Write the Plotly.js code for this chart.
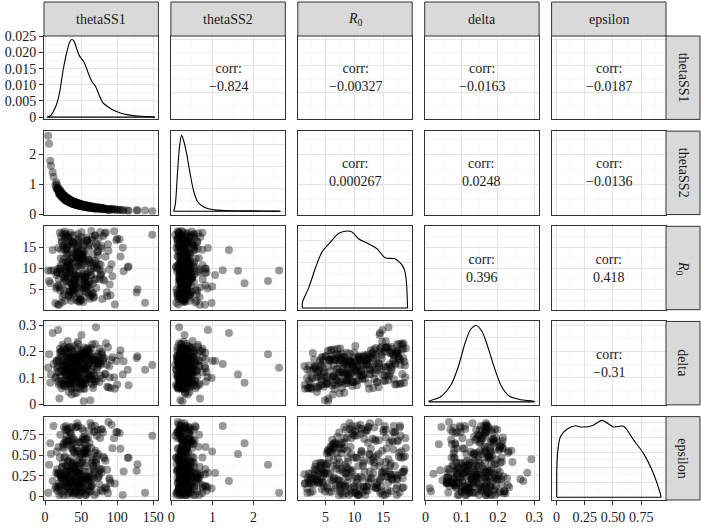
<!DOCTYPE html>
<html>
<head>
<meta charset="utf-8">
<script src="https://cdn.plot.ly/plotly-3.0.1.min.js"></script>
<style>html,body{margin:0;padding:0;background:#fff;}</style>
</head>
<body>
<div id="chart" style="width:701px;height:529px;"></div>
<script>
// posterior samples (one entry per draw)
const thetaSS1 = [4.3, 42.9, 78.1, 37.3, 65.3, 31.3, 56.7, 25.1, 49.8, 14.1, 44.0, 82.5, 38.4, 67.2, 32.5, 58.0, 26.4, 51.0,
  17.0, 45.1, 87.8, 39.4, 69.1, 33.6, 59.3, 27.8, 52.3, 19.2, 46.3, 95.5, 40.3, 71.4, 34.7, 60.9, 29.0, 53.6,
  21.1, 47.4, 107.6, 41.4, 74.3, 35.8, 62.8, 29.9, 54.9, 22.9, 48.5, 148.5, 42.5, 77.1, 37.0, 64.7, 31.0, 56.2,
  24.6, 49.5, 10.5, 43.6, 80.8, 38.1, 66.6, 32.1, 57.5, 26.0, 50.6, 16.3, 44.8, 86.0, 39.1, 68.5, 33.2,
  58.8, 27.3, 51.9, 18.6, 45.9, 92.0, 39.9, 70.5, 34.3, 60.3, 28.6, 53.2, 20.4, 47.0, 103.2, 41.0, 73.3,
  35.5, 62.2, 29.6, 54.5, 22.3, 48.1, 126.8, 42.1, 76.2, 36.6, 64.1, 30.6, 55.8, 24.0, 49.2, 5.6, 43.3,
  79.0, 37.7, 66.0, 31.7, 57.1, 25.5, 50.2, 15.5, 44.4, 84.3, 38.8, 67.9, 32.8, 58.4, 26.9, 51.5,
  17.9, 45.5, 89.5, 39.7, 69.7, 34.0, 59.7, 28.2, 52.8, 19.8, 46.6, 98.7, 40.6, 72.4,
  35.1, 61.5, 29.3, 54.1, 21.7, 47.8, 114.5, 41.8,
  75.2, 36.2, 63.4, 30.2, 55.4,
  23.4, 48.9,
  47.1, 93.2, 41.1, 71.7, 35.5, 61.5, 29.8, 54.4, 21.6, 48.2, 104.4, 42.2, 74.5,
  36.7, 63.4, 30.8, 55.7, 23.5, 49.3, 128.0, 43.3, 77.4, 37.8, 65.3, 31.8, 57.0, 25.2, 50.4, 8.0, 44.5,
  80.2, 38.9, 67.2, 32.9, 58.3, 26.7, 51.4, 16.7, 45.6, 85.5, 40.0, 69.1, 34.0, 59.6, 28.1, 52.7,
  19.1, 46.7, 90.7, 40.9, 70.9, 35.2, 60.9, 29.4, 54.0, 21.0, 47.8, 99.9, 41.8, 73.6,
  36.3, 62.7, 30.5, 55.3, 22.9, 49.0, 115.7, 43.0,
  76.4, 37.4, 64.6, 31.4, 56.6, 24.6, 50.1,
  7.2, 44.1, 79.3, 38.5, 66.5, 32.5, 57.9, 26.3, 51.0, 15.3, 45.2, 83.7, 39.6, 68.4, 33.7, 59.2, 27.6, 52.2,
  18.2, 46.3, 89.0, 40.6, 70.3, 34.8, 60.5, 29.0, 53.5, 20.4, 47.5, 96.7, 41.5, 72.6, 35.9, 62.1, 30.2, 54.8,
  22.3, 48.6, 108.8, 42.6, 75.5, 37.0, 64.0, 31.1, 56.1, 24.1, 49.7, 138.5, 43.7, 78.3, 38.2, 65.9, 32.2, 57.4,
  25.8, 50.7, 11.7, 44.8, 82.0, 39.3, 67.8, 33.3, 58.7, 27.2, 51.8, 17.5, 46.0, 87.2, 40.3, 69.7, 34.4, 60.0, 28.5, 53.1, 19.8];
const thetaSS2 = [2.62, 0.315, 0.211, 0.382, 0.241, 0.422, 0.297, 0.580, 0.310, 0.979, 0.368, 0.182, 0.352, 0.246, 0.438, 0.272, 0.500, 0.329,
  0.856, 0.343, 0.157, 0.411, 0.217, 0.402, 0.278, 0.513, 0.301, 0.687, 0.363, 0.152, 0.383, 0.193, 0.467, 0.246, 0.466, 0.308,
  0.675, 0.332, 0.123, 0.406, 0.196, 0.432, 0.220, 0.542, 0.273, 0.590, 0.340, 0.096, 0.371, 0.171, 0.454, 0.225, 0.498, 0.246,
  0.659, 0.303, 1.40, 0.378, 0.176, 0.413, 0.198, 0.523, 0.253, 0.594, 0.273, 0.994, 0.335, 0.157, 0.422, 0.208, 0.474,
  0.224, 0.615, 0.280, 0.831, 0.301, 0.176, 0.376, 0.191, 0.481, 0.236, 0.551, 0.248, 0.824, 0.310, 0.150, 0.337, 0.221,
  0.423, 0.217, 0.557, 0.261, 0.706, 0.274, 0.133, 0.346, 0.203, 0.377, 0.253, 0.490, 0.242, 0.688, 0.290, 2.35, 0.305,
  0.213, 0.386, 0.234, 0.435, 0.284, 0.588, 0.269, 1.065, 0.321, 0.187, 0.340, 0.247, 0.444, 0.264, 0.513, 0.315,
  0.838, 0.297, 0.184, 0.359, 0.226, 0.388, 0.281, 0.516, 0.293, 0.697, 0.348, 0.152, 0.332, 0.228,
  0.406, 0.256, 0.451, 0.310, 0.670, 0.323, 0.121, 0.388,
  0.199, 0.373, 0.261, 0.472, 0.285,
  0.564, 0.344,
  0.280, 0.180, 0.354, 0.215, 0.389, 0.263, 0.503, 0.248, 0.764, 0.296, 0.151, 0.313, 0.225,
  0.396, 0.244, 0.448, 0.291, 0.638, 0.274, 0.129, 0.329, 0.203, 0.349, 0.257, 0.458, 0.271, 0.548, 0.321, 1.62, 0.303,
  0.206, 0.366, 0.234, 0.401, 0.288, 0.545, 0.301, 0.826, 0.355, 0.175, 0.338, 0.239, 0.419, 0.264, 0.470, 0.319,
  0.762, 0.331, 0.152, 0.396, 0.212, 0.384, 0.271, 0.485, 0.292, 0.629, 0.351, 0.146, 0.370, 0.188,
  0.446, 0.239, 0.443, 0.298, 0.622, 0.321, 0.114, 0.391,
  0.190, 0.413, 0.214, 0.516, 0.265, 0.549, 0.329,
  1.78, 0.357, 0.166, 0.437, 0.219, 0.476, 0.238, 0.616, 0.294, 0.882, 0.365, 0.170, 0.398, 0.193, 0.498, 0.246, 0.560, 0.264,
  0.890, 0.324, 0.152, 0.406, 0.203, 0.453, 0.218, 0.579, 0.272, 0.757, 0.291, 0.168, 0.361, 0.186, 0.460, 0.230, 0.522, 0.241,
  0.753, 0.299, 0.142, 0.324, 0.215, 0.405, 0.211, 0.530, 0.254, 0.654, 0.266, 0.121, 0.333, 0.197, 0.361, 0.246, 0.466, 0.235,
  0.640, 0.281, 1.25, 0.375, 0.177, 0.393, 0.203, 0.486, 0.256, 0.496, 0.319, 0.814, 0.342, 0.151, 0.417, 0.209, 0.449, 0.230, 0.568, 0.282, 0.682];
const R0 = [9.5, 2.5, 14.7, 6.3, 17.4, 11.3, 4.6, 15.3, 8.2, 1.8, 12.6, 18.3, 5.4, 10.7, 3.7, 16.5, 7.6, 13.4,
  9.1, 2.9, 14.2, 6.8, 17.9, 11.8, 4.2, 15.8, 8.7, 1.4, 12.1, 18.8, 5.9, 10.2, 3.1, 16.0, 7.1, 13.9,
  9.8, 2.1, 14.9, 6.1, 17.1, 11.1, 4.9, 15.0, 8.0, 1.9, 12.8, 18.0, 5.0, 10.9, 3.9, 16.8, 7.9, 13.1,
  9.3, 2.6, 14.4, 6.6, 17.7, 11.6, 4.1, 15.5, 8.5, 12.3, 18.6, 5.7, 10.4, 3.4, 16.3, 7.3, 13.7,
  9.0, 2.3, 14.0, 6.0, 17.0, 11.0, 4.7, 15.9, 8.9, 12.0, 18.2, 5.2, 10.0, 3.8, 16.9, 7.45, 13.0,
  9.6, 2.8, 14.6, 6.9, 17.5, 11.4, 4.3, 15.1, 8.3, 12.5, 18.9, 5.8, 10.6, 3.2, 16.2, 7.0, 13.6,
  9.2, 14.3, 6.4, 17.3, 11.7, 4.8, 15.7, 8.45, 12.7, 18.5, 5.1, 10.1, 3.5, 16.6, 7.8, 13.3,
  9.9, 14.8, 6.2, 17.8, 11.2, 4.5, 15.4, 8.1, 12.2, 5.5, 10.8, 16.7, 7.2, 13.8,
  9.4, 6.7, 11.5, 8.8, 12.4, 5.6, 10.3, 7.5,
  9.7, 6.5, 8.4, 10.5, 7.7,
  8.6, 7.4,
  7.85, 8.15, 7.25, 10.05, 8.85, 6.05, 9.25, 7.05, 10.75, 5.15,
  12.85, 8.35, 11.05, 6.25, 9.85, 13.35, 7.65, 16.25, 10.35, 5.05,
  12.65, 8.55, 15.85, 4.05, 11.65, 17.35, 6.65, 14.35, 9.45, 13.75,
  7.35, 16.15, 3.05, 10.55, 5.55, 18.05, 12.25, 8.9, 15.25, 4.35,
  11.25, 17.75, 6.85, 14.75, 9.65, 13.15, 7.45, 16.65, 3.65, 10.15,
  5.35, 18.45, 12.05, 8.75, 15.55, 4.75, 11.85, 17.05, 6.45, 14.15,
  2.35, 9.15, 13.45, 7.9, 16.45, 3.35, 10.45, 5.65, 18.65, 12.45,
  8.45, 15.45, 4.25, 11.45, 17.45, 6.45, 14.45, 2.75, 9.45, 13.25,
  7.75, 16.75, 3.85, 10.85, 5.25, 18.15, 12.75, 8.05, 15.05, 4.55,
  11.15, 17.25, 6.15, 14.85, 2.15, 9.75, 13.55, 7.45, 16.35, 3.45,
  10.45, 5.45, 18.45, 12.35, 1.45, 8.45, 15.45, 4.45, 11.55, 17.55,
  6.55, 14.45, 2.55, 9.35, 13.45, 7.55, 16.45, 3.55, 10.65, 5.45,
  18.35, 12.55, 1.85, 8.25, 15.35, 4.65, 11.35, 17.45, 6.35, 14.65,
  2.45, 9.55, 13.85, 7.15, 16.05, 3.25, 10.25, 5.85, 18.75, 12.15,
  1.35, 8.65, 15.75, 4.15, 11.75, 17.85, 6.75, 14.25, 2.05, 9.05];
const delta = [0.138, 0.063, 0.187, 0.107, 0.227, 0.110, 0.136, 0.089, 0.179, 0.100, 0.174, 0.115, 0.203, 0.118, 0.122, 0.198, 0.086, 0.207,
  0.122, 0.134, 0.065, 0.169, 0.168, 0.097, 0.149, 0.141, 0.195, 0.074, 0.163, 0.102, 0.170, 0.131, 0.140, 0.107, 0.210, 0.129,
  0.144, 0.147, 0.113, 0.181, 0.151, 0.164, 0.015, 0.198, 0.133, 0.061, 0.180, 0.149, 0.182, 0.108, 0.133, 0.095, 0.177, 0.141,
  0.163, 0.058, 0.270, 0.103, 0.173, 0.181, 0.074, 0.215, 0.120, 0.168, 0.081, 0.165, 0.141, 0.066, 0.193, 0.110, 0.213,
  0.101, 0.127, 0.084, 0.171, 0.155, 0.169, 0.066, 0.292, 0.111, 0.152, 0.205, 0.078, 0.195, 0.103, 0.185, 0.041, 0.191,
  0.084, 0.194, 0.132, 0.134, 0.202, 0.100, 0.175, 0.143, 0.154, 0.059, 0.212, 0.125, 0.092, 0.146, 0.142, 0.189, 0.118,
  0.192, 0.141, 0.147, 0.076, 0.186, 0.121, 0.111, 0.164, 0.130, 0.231, 0.087, 0.155, 0.047, 0.209, 0.122, 0.177,
  0.085, 0.237, 0.101, 0.173, 0.179, 0.075, 0.214, 0.118, 0.168, 0.022, 0.183, 0.164, 0.080, 0.184,
  0.118, 0.188, 0.110, 0.151, 0.079, 0.169, 0.131, 0.156,
  0.084, 0.207, 0.109, 0.147, 0.167,
  0.090, 0.186,
  0.062, 0.178, 0.120, 0.165, 0.081, 0.206, 0.112, 0.134, 0.178, 0.078,
  0.205, 0.119, 0.164, 0.037, 0.179, 0.152, 0.082, 0.193, 0.121, 0.182,
  0.115, 0.150, 0.091, 0.164, 0.136, 0.192, 0.073, 0.262, 0.113, 0.159,
  0.166, 0.117, 0.170, 0.127, 0.144, 0.079, 0.188, 0.136, 0.109, 0.150,
  0.125, 0.228, 0.094, 0.172, 0.069, 0.196, 0.121, 0.189, 0.062, 0.221,
  0.098, 0.175, 0.182, 0.091, 0.215, 0.106, 0.167, 0.075, 0.167, 0.155,
  0.063, 0.167, 0.132, 0.192, 0.128, 0.131, 0.072, 0.169, 0.161, 0.174,
  0.079, 0.240, 0.094, 0.150, 0.202, 0.082, 0.211, 0.099, 0.158, 0.062,
  0.172, 0.164, 0.068, 0.173, 0.103, 0.229, 0.115, 0.148, 0.088, 0.165,
  0.134, 0.191, 0.071, 0.281, 0.087, 0.144, 0.188, 0.086, 0.218, 0.101,
  0.162, 0.012, 0.210, 0.149, 0.059, 0.164, 0.140, 0.180, 0.111, 0.182,
  0.058, 0.201, 0.103, 0.163, 0.097, 0.211, 0.138, 0.122, 0.177, 0.079,
  0.225, 0.134, 0.131, 0.044, 0.199, 0.121, 0.095, 0.197, 0.107, 0.217,
  0.078, 0.153, 0.084, 0.175, 0.152, 0.141, 0.086, 0.205, 0.147, 0.153,
  0.144, 0.090, 0.216, 0.104, 0.166, 0.078, 0.168, 0.155, 0.061, 0.167];
const epsilon = [0.043, 0.233, 0.287, 0.583, 0.135, 0.82, 0.245, 0.018, 0.658, 0.095, 0.508, 0.101, 0.561, 0.368, 0.312, 0.201, 0.586, 0.413,
  0.067, 0.145, 0.905, 0.101, 0.86, 0.78, 0.217, 0.239, 0.712, 0.158, 0.120, 0.708, 0.190, 0.046, 0.259, 0.304, 0.634, 0.166,
  0.75, 0.163, 0.018, 0.533, 0.267, 0.76, 0.060, 0.811, 0.304, 0.226, 0.214, 0.736, 0.281, 0.074, 0.170, 0.856, 0.113, 0.70,
  0.604, 0.168, 0.188, 0.583, 0.483, 0.115, 0.375, 0.243, 0.040, 0.84, 0.304, 0.545, 0.166, 0.324, 0.400, 0.014, 0.672,
  0.241, 0.202, 0.101, 0.601, 0.368, 0.87, 0.127, 0.450, 0.420, 0.074, 0.293, 0.525, 0.127, 0.275, 0.77, 0.318, 0.223,
  0.767, 0.210, 0.120, 0.526, 0.255, 0.046, 0.311, 0.304, 0.711, 0.166, 0.588, 0.285, 0.018, 0.360, 0.267, 0.386, 0.101,
  0.819, 0.368, 0.441, 0.221, 0.698, 0.273, 0.074, 0.285, 0.890, 0.111, 0.329, 0.79, 0.196, 0.209, 0.656, 0.476,
  0.116, 0.554, 0.197, 0.046, 0.554, 0.170, 0.717, 0.138, 0.80, 0.275, 0.018, 0.782, 0.204, 0.492,
  0.094, 0.649, 0.368, 0.555, 0.221, 0.474, 0.469, 0.058,
  0.316, 0.609, 0.118, 0.74, 0.525,
  0.353, 0.187,
  0.336, 0.585, 0.191, 0.736, 0.466, 0.056, 0.331, 0.724, 0.134, 0.375,
  0.579, 0.385, 0.239, 0.633, 0.473, 0.120, 0.634, 0.264, 0.046, 0.390,
  0.304, 0.811, 0.166, 0.410, 0.432, 0.017, 0.637, 0.209, 0.515, 0.101,
  0.777, 0.368, 0.326, 0.221, 0.533, 0.469, 0.069, 0.330, 0.856, 0.086,
  0.543, 0.530, 0.336, 0.238, 0.810, 0.446, 0.105, 0.665, 0.162, 0.038,
  0.404, 0.299, 0.804, 0.163, 0.581, 0.285, 0.018, 0.782, 0.213, 0.515,
  0.047, 0.892, 0.368, 0.573, 0.221, 0.401, 0.469, 0.054, 0.331, 0.844,
  0.133, 0.419, 0.404, 0.405, 0.214, 0.646, 0.422, 0.059, 0.708, 0.285,
  0.042, 0.570, 0.178, 0.829, 0.116, 0.550, 0.432, 0.017, 0.782, 0.171,
  0.515, 0.094, 0.690, 0.288, 0.280, 0.221, 0.693, 0.413, 0.062, 0.183,
  0.856, 0.099, 0.472, 0.653, 0.158, 0.230, 0.810, 0.310, 0.120, 0.681,
  0.230, 0.041, 0.274, 0.304, 0.837, 0.143, 0.681, 0.243, 0.018, 0.560,
  0.219, 0.515, 0.043, 0.843, 0.333, 0.407, 0.221, 0.671, 0.370, 0.062,
  0.156, 0.856, 0.138, 0.464, 0.653, 0.217, 0.239, 0.606, 0.488, 0.120,
  0.270, 0.279, 0.039, 0.348, 0.304, 0.837, 0.136, 0.681, 0.190, 0.018];

// diagonal densities
const densThetaSS1X = [3, 8, 12, 16, 20, 25, 30, 34, 37, 40, 44, 48, 52, 56, 60, 65, 70, 75, 80, 87, 95, 105, 115, 125, 140, 152];
const densThetaSS1Y = [0, 0.0005, 0.002, 0.004, 0.0075, 0.0145, 0.020, 0.0232, 0.0240, 0.0235, 0.021, 0.0188, 0.0177, 0.016, 0.0135, 0.011, 0.0095, 0.0068, 0.0045, 0.0032, 0.0021, 0.0012, 0.0007, 0.0004, 0.0002, 0];
const densThetaSS2X = [0.06, 0.1, 0.15, 0.2, 0.25, 0.3, 0.37, 0.45, 0.55, 0.65, 0.78, 0.9, 1.05, 1.3, 1.6, 2.0, 2.4, 2.65];
const densThetaSS2Y = [0, 0.35, 1.7, 2.9, 3.4, 3.15, 2.6, 1.75, 0.85, 0.4, 0.2, 0.11, 0.06, 0.03, 0.02, 0.015, 0.01, 0];
const densR0X = [1.0, 2.1, 3.3, 4.4, 5.9, 7.3, 8.7, 9.6, 10.7, 12.4, 13.9, 15.3, 17.0, 18.1, 18.7, 19.0, 19.2];
const densR0Y = [0.005, 0.018, 0.036, 0.0496, 0.0585, 0.066, 0.068, 0.0671, 0.0612, 0.0568, 0.0524, 0.0444, 0.0435, 0.039, 0.033, 0.0227, 0];
const densDeltaX = [0.01, 0.04, 0.07, 0.09, 0.11, 0.125, 0.14, 0.155, 0.17, 0.19, 0.21, 0.23, 0.26, 0.30];
const densDeltaY = [0.09, 0.53, 1.96, 4.0, 6.94, 8.46, 8.9, 8.28, 6.68, 4.0, 1.78, 0.71, 0.27, 0.04];
const densEpsilonX = [0.002, 0.01, 0.035, 0.094, 0.168, 0.21, 0.315, 0.403, 0.505, 0.594, 0.682, 0.77, 0.858, 0.905, 0.926];
const densEpsilonY = [0.45, 0.75, 1.01, 1.135, 1.19, 1.17, 1.19, 1.28, 1.17, 1.18, 0.955, 0.73, 0.4, 0.15, 0.01];

// upper panels
const corrRows = [0, 0, 0, 0, 1, 1, 1, 2, 2, 3];
const corrCols = [1, 2, 3, 4, 2, 3, 4, 3, 4, 4];
const corrLabels = ['\u22120.824', '\u22120.00327', '\u22120.0163', '\u22120.0187', '0.000267', '0.0248', '\u22120.0136', '0.396', '0.418', '\u22120.31'];

const stripLabels = ['thetaSS1', 'thetaSS2', '<i>R</i><sub>0</sub>', 'delta', 'epsilon'];

const samples = [thetaSS1, thetaSS2, R0, delta, epsilon];
const densX = [densThetaSS1X, densThetaSS2X, densR0X, densDeltaX, densEpsilonX];
const densY = [densThetaSS1Y, densThetaSS2Y, densR0Y, densDeltaY, densEpsilonY];

const varAxes = [
  {range: [-1.5, 157], tickvals: [0, 50, 100, 150], ticktext: ['0', '50', '100', '150'], minor: [25, 75, 125]},
  {range: [-0.01, 2.77], tickvals: [0, 1, 2], ticktext: ['0', '1', '2'], minor: [0.5, 1.5, 2.5]},
  {range: [0.2, 20], tickvals: [5, 10, 15], ticktext: ['5', '10', '15'], minor: [2.5, 7.5, 12.5, 17.5]},
  {range: [-0.002, 0.3135], tickvals: [0, 0.1, 0.2, 0.3], ticktext: ['0', '0.1', '0.2', '0.3'], minor: [0.05, 0.15, 0.25]},
  {range: [-0.044, 0.97], tickvals: [0, 0.25, 0.5, 0.75], ticktext: ['0', '0.25', '0.50', '0.75'], minor: [0.125, 0.375, 0.625, 0.875]}
];
const densAxes = [
  {range: [-0.0007, 0.0251], tickvals: [0, 0.005, 0.01, 0.015, 0.02, 0.025], ticktext: ['0', '0.005', '0.010', '0.015', '0.020', '0.025'], minor: [0.0025, 0.0075, 0.0125, 0.0175, 0.0225]},
  {range: [-0.148, 3.58], tickvals: [0, 1, 2, 3], ticktext: ['0', '1', '2', '3'], minor: [0.5, 1.5, 2.5, 3.5]},
  {range: [-0.0015, 0.0722], tickvals: [0, 0.02, 0.04, 0.06], ticktext: ['0', '0.02', '0.04', '0.06'], minor: [0.01, 0.03, 0.05, 0.07]},
  {range: [-0.35, 9.37], tickvals: [0, 2.5, 5, 7.5], ticktext: ['0', '2.5', '5', '7.5'], minor: [1.25, 3.75, 6.25, 8.75]},
  {range: [-0.045, 1.342], tickvals: [0, 0.25, 0.5, 0.75, 1, 1.25], ticktext: ['0', '0.25', '0.5', '0.75', '1', '1.25'], minor: [0.125, 0.375, 0.625, 0.875, 1.125]}
];

const W = 701, H = 529;
const mL = 44, mR = 35, mT = 36, mB = 29;
const plotW = W - mL - mR, plotH = H - mT - mB;
const panelW = 114.4, gapW = 12.5, panelH = 83.4, gapH = 11.75;
const serif = 'Liberation Serif';
const ink = '#1a1a1a';

function colDomain(j) {
    const x0 = j * (panelW + gapW);
    return [x0 / plotW, (x0 + panelW) / plotW];
}
function rowDomain(i) {
    const top = i * (panelH + gapH);
    return [1 - (top + panelH) / plotH, 1 - top / plotH];
}
function axisName(k) { return k === 1 ? '' : String(k); }

function buildAxis(spec, domain, anchor, showLabels) {
    return {
        domain: domain,
        anchor: anchor,
        range: spec.range,
        tickmode: 'array',
        tickvals: spec.tickvals,
        ticktext: spec.ticktext,
        showticklabels: showLabels,
        ticks: showLabels ? 'outside' : '',
        ticklen: 4,
        tickwidth: 1,
        tickcolor: '#333333',
        tickfont: {family: serif, size: 14, color: ink},
        showgrid: true,
        gridcolor: '#e3e3e3',
        gridwidth: 1,
        minor: {tickmode: 'array', tickvals: spec.minor, showgrid: true, gridcolor: '#f1f1f1', gridwidth: 0.6, ticks: ''},
        zeroline: false,
        showline: true,
        mirror: true,
        linecolor: '#333333',
        linewidth: 1,
        fixedrange: true
    };
}

const traces = [];
const layout = {
    width: W,
    height: H,
    margin: {l: mL, r: mR, t: mT, b: mB, pad: 0},
    paper_bgcolor: '#ffffff',
    plot_bgcolor: '#ffffff',
    showlegend: false,
    font: {family: serif, color: ink},
    annotations: [],
    shapes: []
};

for (let i = 0; i < 5; i++) {
    for (let j = 0; j < 5; j++) {
        const k = i * 5 + j + 1;
        const xa = 'x' + axisName(k), ya = 'y' + axisName(k);
        layout['xaxis' + axisName(k)] = buildAxis(varAxes[j], colDomain(j), ya, i === 4);
        const ySpec = (i === j) ? densAxes[i] : varAxes[i];
        layout['yaxis' + axisName(k)] = buildAxis(ySpec, rowDomain(i), xa, j === 0);

        if (i > j) {
            traces.push({
                type: 'scatter', mode: 'markers',
                x: samples[j], y: samples[i],
                xaxis: xa, yaxis: ya,
                marker: {color: '#000000', size: 8, opacity: 0.4, line: {width: 0}},
                hoverinfo: 'skip'
            });
        } else if (i === j) {
            const dx = densX[i], dy = densY[i];
            traces.push({
                type: 'scatter', mode: 'lines',
                x: [dx[0]].concat(dx, [dx[dx.length - 1]]),
                y: [0].concat(dy, [0]),
                xaxis: xa, yaxis: ya,
                line: {color: '#000000', width: 1.1, shape: 'spline', smoothing: 0.8},
                hoverinfo: 'skip'
            });
            traces.push({
                type: 'scatter', mode: 'lines',
                x: [dx[0], dx[dx.length - 1]], y: [0, 0],
                xaxis: xa, yaxis: ya,
                line: {color: '#000000', width: 1.1},
                hoverinfo: 'skip'
            });
        } else {
            traces.push({type: 'scatter', mode: 'markers', x: [], y: [], xaxis: xa, yaxis: ya, hoverinfo: 'skip'});
        }
    }
}

corrLabels.forEach((label, n) => {
    const k = corrRows[n] * 5 + corrCols[n] + 1;
    layout.annotations.push({
        xref: 'x' + axisName(k) + ' domain', yref: 'y' + axisName(k) + ' domain',
        x: 0.5, y: 0.5, xanchor: 'center', yanchor: 'middle', showarrow: false,
        text: 'corr:<br>' + label,
        font: {family: serif, size: 14, color: ink}
    });
});

// facet strips
const stripTop = 1 + 34 / plotH;
const stripRight = 1 + 34 / plotW;
for (let j = 0; j < 5; j++) {
    const d = colDomain(j);
    layout.shapes.push({type: 'rect', xref: 'paper', yref: 'paper', x0: d[0], x1: d[1], y0: 1, y1: stripTop,
        fillcolor: '#d9d9d9', line: {color: '#333333', width: 1}});
    layout.annotations.push({xref: 'paper', yref: 'paper', x: (d[0] + d[1]) / 2, y: (1 + stripTop) / 2,
        xanchor: 'center', yanchor: 'middle',
        text: stripLabels[j], showarrow: false, font: {family: serif, size: 14, color: ink}});
}
for (let i = 0; i < 5; i++) {
    const d = rowDomain(i);
    layout.shapes.push({type: 'rect', xref: 'paper', yref: 'paper', x0: 1, x1: stripRight, y0: d[0], y1: d[1],
        fillcolor: '#d9d9d9', line: {color: '#333333', width: 1}});
    layout.annotations.push({xref: 'paper', yref: 'paper', x: (1 + stripRight) / 2, y: (d[0] + d[1]) / 2,
        xanchor: 'center', yanchor: 'middle',
        text: stripLabels[i], textangle: 90, showarrow: false, font: {family: serif, size: 14, color: ink}});
}

Plotly.newPlot('chart', traces, layout, {displayModeBar: false, staticPlot: true});
</script>
</body>
</html>
